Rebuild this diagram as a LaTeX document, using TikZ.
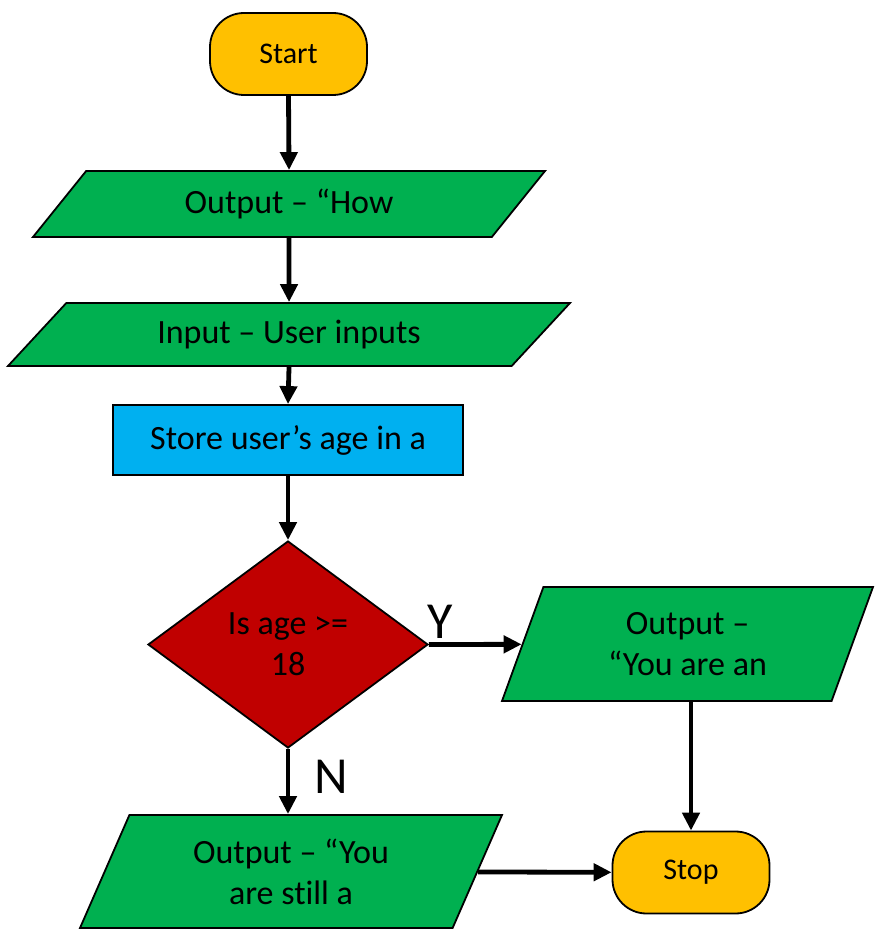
\documentclass[tikz,border=0pt]{standalone}
\usepackage{fontspec}
\setmainfont{Carlito}[Ligatures=CommonOff]
\usetikzlibrary{shapes.geometric,arrows.meta}
\definecolor{termfill}{HTML}{FFC000}
\definecolor{iofill}{HTML}{00B050}
\definecolor{procfill}{HTML}{00B0F0}
\definecolor{decfill}{HTML}{C00000}
\tikzset{
  txt/.style={font=\fontsize{17pt}{20.5pt}\selectfont, align=center},
  term/.style={draw=black, line width=0.9pt, fill=termfill, rounded corners=17pt,
    minimum width=78.5pt, minimum height=41pt, inner sep=0pt,
    font=\fontsize{15pt}{18pt}\selectfont},
  iobox/.style={txt, draw=black, line width=0.9pt, fill=iofill, shape=trapezium,
    trapezium stretches body=true, inner sep=1pt},
  procbox/.style={txt, draw=black, line width=0.9pt, fill=procfill,
    minimum width=175pt, minimum height=35pt, inner sep=0pt},
  decbox/.style={txt, draw=black, line width=0.9pt, fill=decfill, shape=diamond,
    minimum width=140pt, minimum height=103.5pt, inner sep=0pt},
  flow/.style={line width=2.4pt, -{Triangle[length=9pt,width=8.5pt]}},
  lbl/.style={font=\fontsize{26pt}{30pt}\selectfont}
}
\begin{document}
\begin{tikzpicture}[x=0.5pt, y=-0.5pt]
\useasboundingbox (0,0) rectangle (875,931);
\node[term] (start) at (288.5,54) {Start};
\node[iobox, trapezium left angle=32.6, trapezium right angle=147.4,
  minimum width=256pt, minimum height=33pt] (out1) at (289,204) {Output – “How};
\node[iobox, trapezium left angle=29.4, trapezium right angle=150.6,
  minimum width=281pt, minimum height=31.5pt] (inp) at (289,334.5) {Input – User inputs};
\node[procbox] (store) at (288,440) {Store user’s age in a};
\node[decbox] (dia) at (288,644.5) {Is age >=\\18};
\node[iobox, trapezium left angle=58.4, trapezium right angle=121.6,
  minimum width=185.5pt, minimum height=57pt] (out3) at (687.5,644) {Output –\\“You are an};
\node[iobox, trapezium left angle=54.7, trapezium right angle=125.3,
  minimum width=211pt, minimum height=56.5pt] (out4) at (291,871.5) {Output – “You\\are still a};
\node[term] (stop) at (691,872.5) {Stop};
\node[lbl] (ylab) at (440,622) {Y};
\node[lbl] (nlab) at (331,777) {N};
\draw[flow] (start.south) -- (out1.north);
\draw[flow] (out1.south) -- (inp.north);
\draw[flow] (inp.south) -- (store.north);
\draw[flow] (store.south) -- (dia.north);
\draw[flow] (dia.east) -- (out3);
\draw[flow] (dia.south) -- (dia.south |- out4.north);
\draw[flow] (out4) -- (stop);
\draw[flow] (stop.north |- out3.south) -- (stop.north);
\end{tikzpicture}
\end{document}
